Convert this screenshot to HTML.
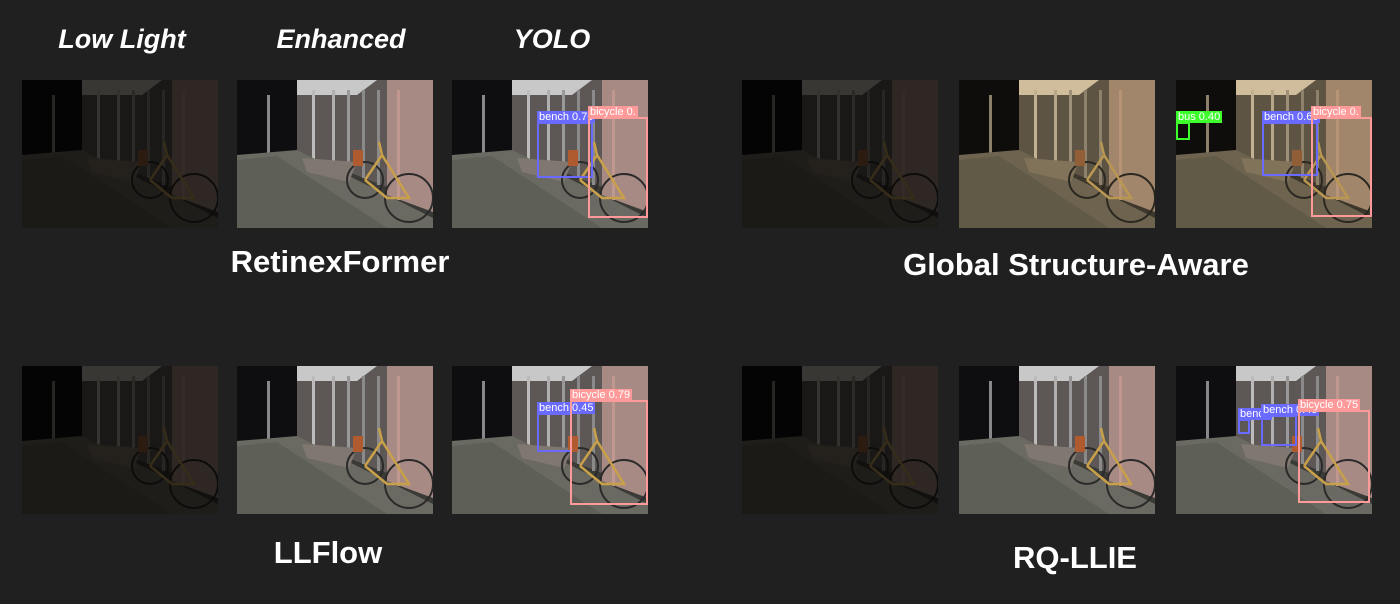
<!DOCTYPE html>
<html><head><meta charset="utf-8">
<style>
body{margin:0;background:#202020;width:1400px;height:604px;overflow:hidden;position:relative;font-family:"Liberation Sans",sans-serif}
.h{position:absolute;color:#fff;font-weight:bold;font-style:italic;font-size:27px;transform:translateX(-50%);white-space:nowrap;top:24px}
.t{position:absolute;color:#fff;font-weight:bold;font-size:31px;transform:translateX(-50%);white-space:nowrap}
.ph{position:absolute;width:196px;height:148px;overflow:hidden}
.ph svg{position:absolute;left:0;top:0}
.box{position:absolute;border:2px solid;box-sizing:border-box}
.lb{position:absolute;color:#fff;font-size:11px;line-height:12px;padding:0 2px;white-space:nowrap;overflow:hidden}
</style></head><body>
<svg width="0" height="0" style="position:absolute">
<defs>
<symbol id="scene" viewBox="0 0 196 148">
<rect width="196" height="148" fill="#3a3a36"/>
<rect x="0" y="0" width="196" height="75" fill="#0e0e10"/>
<polygon points="60,0 196,0 196,125 60,72" fill="#5d5856"/>
<polygon points="150,0 196,0 196,132 150,115" fill="#a88a84"/>
<polygon points="60,0 140,0 120,15 60,15" fill="#c8c8c8"/>
<rect x="75" y="10" width="3" height="70" fill="#bbb"/>
<rect x="95" y="10" width="3" height="75" fill="#b0b0b0"/>
<rect x="110" y="10" width="3" height="80" fill="#999"/>
<rect x="125" y="10" width="3" height="88" fill="#8a8a8a"/>
<rect x="140" y="10" width="3" height="95" fill="#8a8a8a"/>
<rect x="160" y="10" width="3" height="110" fill="#c09890"/>
<rect x="30" y="15" width="3" height="65" fill="#888"/>
<polygon points="0,75 60,70 196,138 196,148 0,148" fill="#6a6a62"/>
<polygon points="0,80 40,76 150,148 0,148" fill="#5e6058"/>
<polygon points="65,78 120,82 112,102 70,92" fill="#807870"/>
<circle cx="172" cy="118" r="24" fill="none" stroke="#2a2a2a" stroke-width="2"/>
<circle cx="128" cy="100" r="18" fill="none" stroke="#2a2a2a" stroke-width="2"/>
<polyline points="128,100 145,75 172,118 150,118 128,100" fill="none" stroke="#c9a04a" stroke-width="2.5"/>
<line x1="145" y1="75" x2="142" y2="62" stroke="#c9a04a" stroke-width="2.5"/>
<rect x="116" y="70" width="10" height="16" fill="#b05a30"/>
</symbol>
</defs>
</svg>
<div class="h" style="left:122px">Low Light</div>
<div class="h" style="left:341px">Enhanced</div>
<div class="h" style="left:552px">YOLO</div>
<div class="t" style="left:340px;top:244px">RetinexFormer</div>
<div class="t" style="left:1076px;top:247px">Global Structure-Aware</div>
<div class="t" style="left:328px;top:535px">LLFlow</div>
<div class="t" style="left:1075px;top:540px">RQ-LLIE</div>
<div id="root"></div>
<script>
const groups=[
 {name:'retinexformer',x:[22,237,452],y:80,tint:'none',boxes:[[85,42,56,56,'#6a6aff','bench 0.70'],[136,37,60,101,'#ff9a9a','bicycle 0.']]},
 {name:'global-structure-aware',x:[742,959,1176],y:80,tint:'sepia(0.55) saturate(1.3) brightness(0.85)',boxes:[[0,42,14,18,'#3cff2c','bus 0.40'],[86,42,56,54,'#6a6aff','bench 0.60'],[135,37,61,100,'#ff9a9a','bicycle 0.']]},
 {name:'llflow',x:[22,237,452],y:366,tint:'none',boxes:[[85,47,35,39,'#6a6aff','bench 0.45'],[118,34,78,105,'#ff9a9a','bicycle 0.79']]},
 {name:'rq-llie',x:[742,959,1176],y:366,tint:'none',boxes:[[62,53,12,15,'#6a6aff','bench'],[85,49,36,31,'#6a6aff','bench 0.45'],[122,44,72,93,'#ff9a9a','bicycle 0.75']]}
];
const root=document.getElementById('root');
groups.forEach(g=>{
 g.x.forEach((x,i)=>{
  const d=document.createElement('div');
  d.className='ph';d.style.left=x+'px';d.style.top=g.y+'px';
  
  
  const br=i==0?'brightness(0.26) sepia(0.3)':'brightness(1)';
  d.innerHTML='<svg width="196" height="148" style="filter:'+br+(g.tint!=='none'&&i>0?' '+g.tint:'')+'"><use href="#scene"/></svg>';
  if(i==2){g.boxes.forEach(b=>{
   const bx=document.createElement('div');bx.className='box';
   bx.style.cssText='left:'+b[0]+'px;top:'+b[1]+'px;width:'+b[2]+'px;height:'+b[3]+'px;border-color:'+b[4];
   
   
   d.appendChild(bx);
   const lb=document.createElement('div');lb.className='lb';
   lb.style.cssText='left:'+b[0]+'px;top:'+(b[1]-11)+'px;background:'+b[4]+';max-width:'+(196-b[0])+'px';
   lb.textContent=b[5];
   
   
   d.appendChild(lb);
  });}
  root.appendChild(d);
 });
});
</script>
</body></html>
